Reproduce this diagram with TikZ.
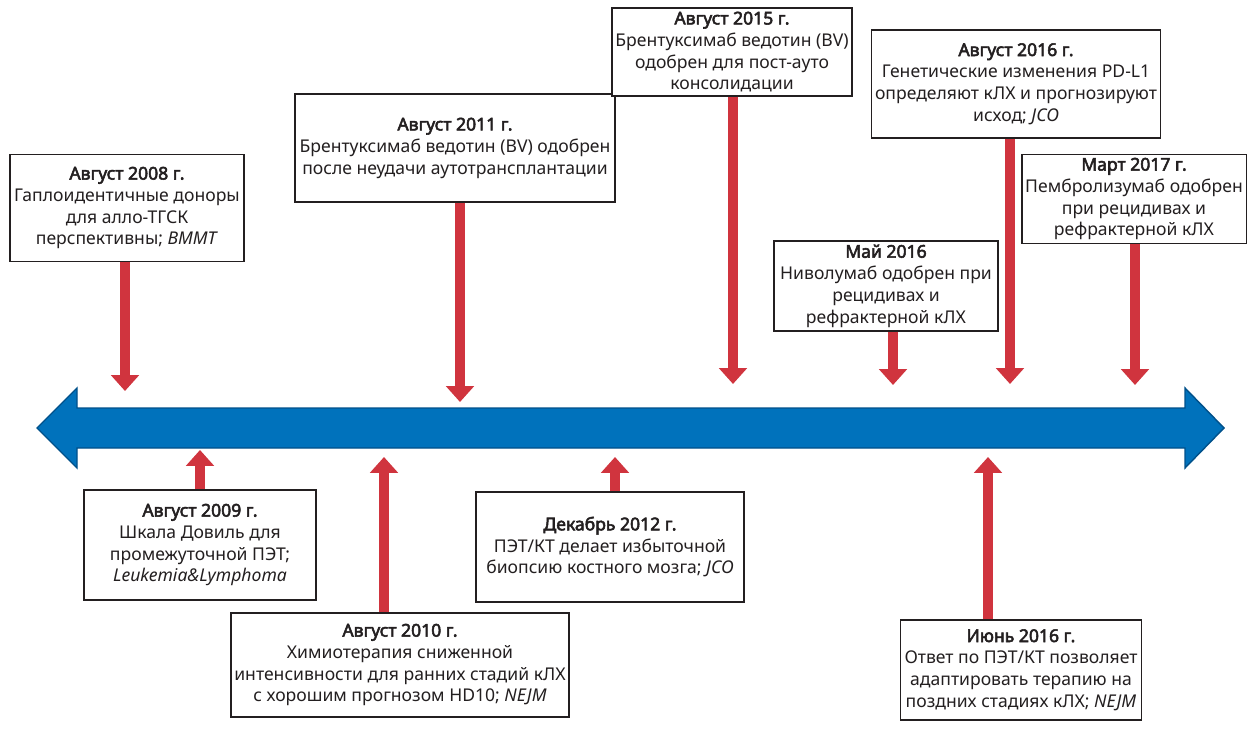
\documentclass[tikz,border=0pt]{standalone}
\usepackage{fontspec}
\setmainfont{Noto Sans}[BoldFont={Noto Sans}, BoldFeatures={FakeBold=3}]
\definecolor{tlBlue}    {RGB}{  0, 114, 188}
\definecolor{tlBlueDark}{RGB}{  0,  80, 138}
\definecolor{tlRed}     {RGB}{208,  52,  62}
\definecolor{tlInk}     {RGB}{ 35,  31,  32}
\usetikzlibrary{
  arrows.meta,
  positioning,
}

\begin{document}
\begin{tikzpicture}[
  x=0.02cm, y=-0.02cm,
  event/.style={draw=tlInk, line width=0.9pt, fill=white, align=center,
    inner sep=2pt, text=tlInk, font=\fontsize{10}{12.4}\selectfont},
  evsize/.style 2 args={minimum width=#1*0.02cm, minimum height=#2*0.02cm},
  evarrow/.style={draw=tlRed, line width=6pt,
    -{Triangle[width=15.5pt,length=9pt]}},
]
  \useasboundingbox (0,0) rectangle (1257,729);

  % Time axis
  \draw[fill=tlBlue, draw=tlBlueDark, line width=0.8pt]
    (37,428) -- (77,388) -- (77,408) -- (1185,408) -- (1185,388)
    -- (1224,428) -- (1185,468) -- (1185,448) -- (77,448) -- (77,468) -- cycle;

  % Arrow tips on the axis
  \coordinate (t2008)  at (125,391);
  \coordinate (t2011)  at (460,402);
  \coordinate (t2015)  at (733,384);
  \coordinate (t2016a) at (1010,384);
  \coordinate (t2017)  at (1135,385);
  \coordinate (t2016m) at (893,385);
  \coordinate (t2009)  at (200,450);
  \coordinate (t2010)  at (384,457);
  \coordinate (t2012)  at (615,457);
  \coordinate (t2016j) at (988,457);

  % Events above the axis
  \node[event, evsize={234}{107}] (b2008) at (127,208)
    {\textbf{Август 2008 г.}\\Гаплоидентичные доноры\\для алло-ТГСК\\перспективны; \textit{BMMT}};
  \node[event, evsize={320}{108}] (b2011) at (455,148)
    {\textbf{Август 2011 г.}\\Брентуксимаб ведотин (BV) одобрен\\после неудачи аутотрансплантации};
  \node[event, evsize={235}{86}] (b2015) at (732,52)
    {\textbf{Август 2015 г.}\\Брентуксимаб ведотин (BV)\\одобрен для пост-ауто\\консолидации};
  \node[event, evsize={288}{108}] (b2016a) at (1016,84)
    {\textbf{Август 2016 г.}\\Генетические изменения PD-L1\\определяют кЛХ и прогнозируют\\исход; \textit{JCO}};
  \node[event, evsize={222}{88}] (b2017) at (1134,199)
    {\textbf{Март 2017 г.}\\Пембролизумаб одобрен\\при рецидивах и\\рефрактерной кЛХ};
  \node[event, evsize={224}{86}] (b2016m) at (886,286)
    {\textbf{Май 2016}\\Ниволумаб одобрен при\\рецидивах и\\рефрактерной кЛХ};

  % Events below the axis
  \node[event, evsize={232}{110}] (b2009) at (200,545)
    {\textbf{Август 2009 г.}\\Шкала Довиль для\\промежуточной ПЭТ;\\\textit{Leukemia\&Lymphoma}};
  \node[event, evsize={333}{104}] (b2010) at (400,665)
    {\textbf{Август 2010 г.}\\Химиотерапия сниженной\\интенсивности для ранних стадий кЛХ\\с хорошим прогнозом HD10; \textit{NEJM}};
  \node[event, evsize={268}{110}] (b2012) at (610,547)
    {\textbf{Декабрь 2012 г.}\\ПЭТ/КТ делает избыточной\\биопсию костного мозга; \textit{JCO}};
  \node[event, evsize={241}{100}] (b2016j) at (1021,670)
    {\textbf{Июнь 2016 г.}\\Ответ по ПЭТ/КТ позволяет\\адаптировать терапию на\\поздних стадиях кЛХ; \textit{NEJM}};

  % Connectors
  \foreach \ev in {2008,2011,2015,2016a,2017,2016m}
    \draw[evarrow] (b\ev.south -| t\ev) -- (t\ev);
  \foreach \ev in {2009,2010,2012,2016j}
    \draw[evarrow] (b\ev.north -| t\ev) -- (t\ev);

\end{tikzpicture}
\end{document}
